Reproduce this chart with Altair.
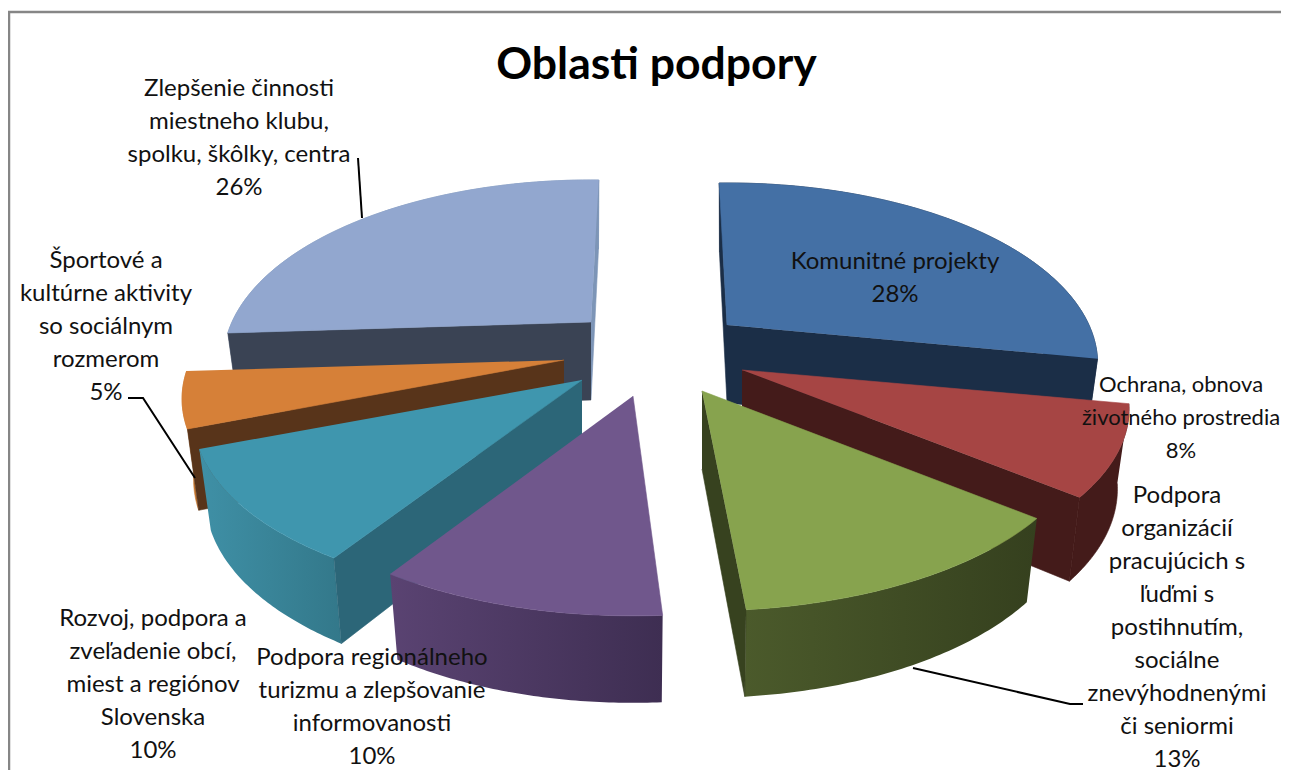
import math
import altair as alt
import pandas as pd

# ---- chart values ----
categories = [
    "Komunitné projekty", "Ochrana, obnova\nživotného prostredia",
    "Podpora\norganizácií\npracujúcich s\nľuďmi s\npostihnutím,\nsociálne\nznevýhodnenými\nči seniormi",
    "Podpora regionálneho\nturizmu a zlepšovanie\ninformovanosti",
    "Rozvoj, podpora a\nzveľadenie obcí,\nmiest a regiónov\nSlovenska",
    "Športové a\nkultúrne aktivity\nso sociálnym\nrozmerom",
    "Zlepšenie činnosti\nmiestneho klubu,\nspolku, škôlky, centra",
]
percents = [28, 8, 13, 10, 10, 5, 26]

# ---- exploded 3-D pie layout ----
apex_x = [727, 742, 702, 633, 582, 564, 591]
apex_y = [325, 370, 391, 396, 380, 360, 322]
radius_x = [362, 378, 375, 371, 379, 373, 359]
start_adj = [-1.5, 0, 0, 0, 0, 0, 0]
end_adj = [0, 0, -1.7, 0, 0, 0, 1.5]
show_start_wall = [1, 0, 0, 0, 1, 1, 1]
show_end_wall = [1, 1, 1, 0, 0, 0, 1]
top_colors = ["#4470a5", "#a64544", "#87a34e", "#70578c", "#3f96ae", "#d68038", "#92a7cf"]
wall_colors = ["#1b2e47", "#441b1a", "#37421f", "#4a3760", "#2c6678", "#58341a", "#3a4354"]
sliver_color = "#7d95b7"
outer_stops = [("#1b2e47", "#1b2e47"), ("#441b1a", "#441b1a"), ("#4b5a2b", "#35401e"),
               ("#5a4372", "#3e2e52"), ("#3f90a6", "#33788a"), ("#c7772f", "#c7772f"),
               ("#7d95b7", "#7d95b7")]
draw_order = [6, 0, 5, 1, 4, 2, 3]
radius_y, persp, depth_mid, depth_var, foot_scale = 172.6, 0.215, 78, 9, 0.97

# ---- label placement (first line of each label) ----
label_x = [895, 1181, 1177, 372, 153, 106, 239]
label_y = [262, 385, 496, 658, 619, 261, 89]
label_size = [24, 22, 24, 24, 24, 24, 24]
leader_lines = [[(358, 158), (362, 218)], [(128, 398), (143, 398), (195, 478)],
                [(913, 668), (1070, 704), (1083, 704)]]
frame = [(9, 790), (9, 12), (1300, 12)]

W, H = 1273, 762
X = alt.X("x:Q", scale=alt.Scale(domain=[8, 8 + W], nice=False, zero=False), axis=None)
Y = alt.Y("y:Q", scale=alt.Scale(domain=[8 + H, 8], nice=False, zero=False), axis=None)


def project(i, deg, bottom=False):
    t = math.radians(deg)
    u, v = math.sin(t), -math.cos(t)
    s = 1 / (1 - persp * v)
    dx, dy = radius_x[i] * u * s, radius_y * v * s
    if bottom:
        return apex_x[i] + foot_scale * dx, apex_y[i] + dy + depth_mid + depth_var * v
    return apex_x[i] + dx, apex_y[i] + dy


def apex(i, bottom=False):
    return (apex_x[i], apex_y[i] + (depth_mid if bottom else 0))


def poly(points, fill):
    df = pd.DataFrame(points, columns=["x", "y"])
    df["k"] = range(len(df))
    stroke = fill if isinstance(fill, str) else "transparent"
    return alt.Chart(df).mark_line(fill=fill, stroke=stroke, strokeWidth=0.6, clip=True).encode(
        x=X, y=Y, order="k:Q")


def gradient(c1, c2):
    return alt.Gradient(gradient="linear", x1=0, x2=1, y1=0, y2=0,
                        stops=[alt.GradientStop(color=c1, offset=0),
                               alt.GradientStop(color=c2, offset=1)])


bounds = []
cum = 0
for i, p in enumerate(percents):
    a = cum * 3.6 + start_adj[i]
    b = (cum + p) * 3.6 + end_adj[i]
    bounds.append((a, b))
    cum += p

layers = []


def polyline(pts, width, color):
    df = pd.DataFrame(pts, columns=["x", "y"])
    df["k"] = range(len(df))
    return alt.Chart(df).mark_line(color=color, strokeWidth=width, clip=True).encode(x=X, y=Y, order="k:Q")


# leader of the green slice runs beneath the pie
layers.append(polyline(leader_lines[2], 2, "#000000"))

for i in draw_order:
    a, b = bounds[i]
    n = 60
    angles = [a + (b - a) * j / n for j in range(n + 1)]
    top_arc = [project(i, d) for d in angles]
    foot_arc = [project(i, d, True) for d in angles]
    # curved outer wall
    c1, c2 = outer_stops[i]
    wall_fill = c1 if c1 == c2 else gradient(c1, c2)
    layers.append(poly(top_arc + foot_arc[::-1], wall_fill))
    # radial walls
    if show_end_wall[i]:
        col = sliver_color if i == 6 else wall_colors[i]
        layers.append(poly([apex(i), project(i, b), project(i, b, True), apex(i, True)], col))
    if show_start_wall[i]:
        layers.append(poly([apex(i), project(i, a), project(i, a, True), apex(i, True)], wall_colors[i]))
    # top face
    layers.append(poly([apex(i)] + top_arc, top_colors[i]))

layers.append(polyline(leader_lines[0], 2, "#000000"))
layers.append(polyline(leader_lines[1], 2, "#000000"))
layers.append(polyline(frame, 2.5, "#868686"))

labels = pd.DataFrame({
    "text": [c + "\n" + str(p) + "%" for c, p in zip(categories, percents)],
    "x": label_x, "y": label_y, "fs": label_size,
})
layers.append(alt.Chart(labels).mark_text(
    font="Lato", lineBreak="\n", lineHeight=33, align="center",
    baseline="middle", color="#111111", clip=True,
).encode(x=X, y=Y, text="text:N", size=alt.Size("fs:Q", scale=None, legend=None)))

chart = alt.layer(*layers).properties(
    width=W, height=H, padding=0,
    autosize=alt.AutoSizeParams(type="none"),
    title=alt.TitleParams("Oblasti podpory", font="Lato", fontSize=44.5, fontWeight="bold",
                          color="#000000", anchor="middle", offset=-80, dx=12),
).configure_view(stroke=None)

chart.save("out.html", embed_options={"renderer": "svg", "actions": False})
